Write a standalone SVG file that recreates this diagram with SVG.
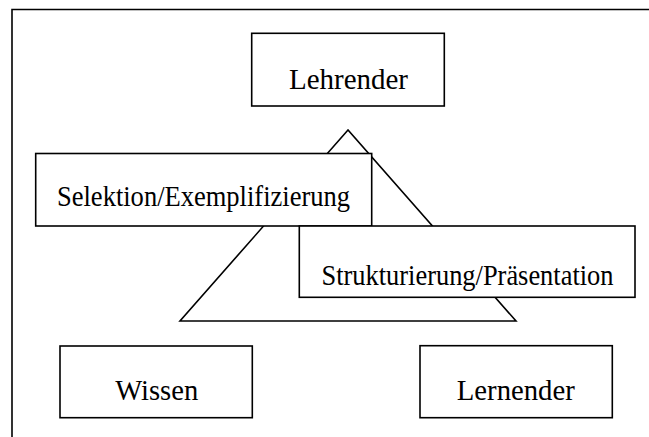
<svg xmlns="http://www.w3.org/2000/svg" width="649" height="437" viewBox="0 0 649 437">
<style>
.box{fill:#fff;stroke:#000;stroke-width:1.6}
.line{fill:none;stroke:#000;stroke-width:1.6}
.lbl{font-family:"Liberation Serif","Times New Roman",serif;font-size:30px;fill:#000;text-anchor:middle}
</style>
<rect width="649" height="437" fill="#fff"/>
<g id="frame">
<path class="line" d="M12,445 V9.5 H660"/>
</g>
<g id="triangle">
<polygon class="line" points="348,130 180,321 516,321"/>
</g>
<g id="lehrender">
<rect class="box" x="251.7" y="33.3" width="192.6" height="72.7"/>
<text class="lbl" x="348.5" y="89" textLength="119" lengthAdjust="spacingAndGlyphs">Lehrender</text>
</g>
<g id="selektion">
<rect class="box" x="35.7" y="153.5" width="336" height="72.5"/>
<text class="lbl" x="203.5" y="206" textLength="293" lengthAdjust="spacingAndGlyphs">Selektion/Exemplifizierung</text>
</g>
<g id="strukturierung">
<rect class="box" x="299.3" y="226" width="335.7" height="71.3"/>
<text class="lbl" x="467.5" y="285" textLength="292" lengthAdjust="spacingAndGlyphs">Strukturierung/Präsentation</text>
</g>
<g id="wissen">
<rect class="box" x="60" y="346" width="192.3" height="71.7"/>
<text class="lbl" x="156.7" y="400" textLength="83" lengthAdjust="spacingAndGlyphs">Wissen</text>
</g>
<g id="lernender">
<rect class="box" x="420" y="345.7" width="192.3" height="72"/>
<text class="lbl" x="515.8" y="400" textLength="118" lengthAdjust="spacingAndGlyphs">Lernender</text>
</g>
</svg>
